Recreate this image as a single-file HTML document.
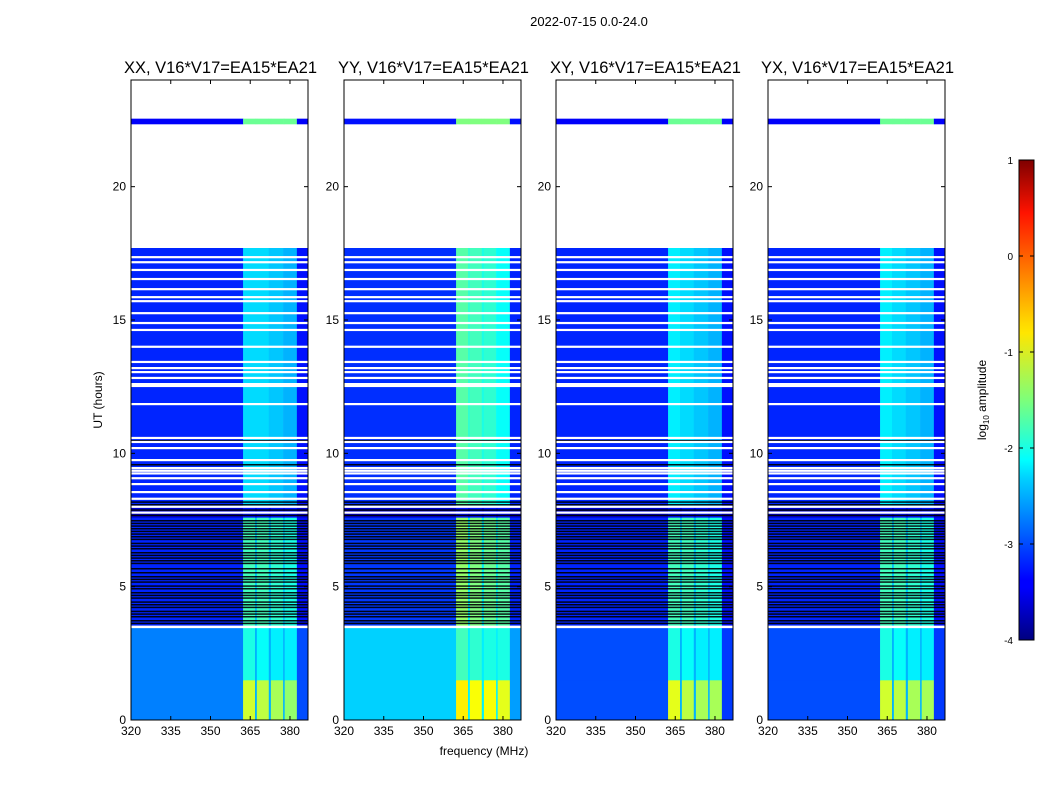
<!DOCTYPE html>
<html><head><meta charset="utf-8"><style>
body{margin:0;background:#fff;width:1050px;height:800px;overflow:hidden;font-family:"Liberation Sans","DejaVu Sans",sans-serif}
svg text{font-family:"Liberation Sans","DejaVu Sans",sans-serif}
</style></head><body>
<svg id="fig" width="1050" height="800" xmlns="http://www.w3.org/2000/svg">
<text x="589" y="26" font-size="13" text-anchor="middle">2022-07-15 0.0-24.0</text>
<text x="484" y="755" font-size="12" text-anchor="middle">frequency (MHz)</text>
<text transform="translate(102,400) rotate(-90)" font-size="12" text-anchor="middle">UT (hours)</text>
<defs><linearGradient id="jet" x1="0" y1="1" x2="0" y2="0">
<stop offset="0" stop-color="#00007f"/><stop offset="0.11" stop-color="#0000ff"/><stop offset="0.125" stop-color="#0000ff"/><stop offset="0.34" stop-color="#00d4ff"/><stop offset="0.375" stop-color="#00ffff"/><stop offset="0.5" stop-color="#7dff7a"/><stop offset="0.64" stop-color="#ffe600"/><stop offset="0.66" stop-color="#ffd900"/><stop offset="0.89" stop-color="#ff1300"/><stop offset="1" stop-color="#7f0000"/></linearGradient></defs>
<g id="cbar">
<rect x="1019" y="160" width="15" height="480" fill="url(#jet)" stroke="#000" stroke-width="1"/>
<text transform="translate(986,400) rotate(-90)" font-size="12" text-anchor="middle">log<tspan font-size="8" dy="3">10</tspan><tspan dy="-3"> amplitude</tspan></text>
</g>
</svg>
<script>
const panelTitles=["XX, V16*V17=EA15*EA21","YY, V16*V17=EA15*EA21","XY, V16*V17=EA15*EA21","YX, V16*V17=EA15*EA21"];
const panelLefts=[131,344,556,768];
const xTicks=[320,335,350,365,380];
const yTicks=[0,5,10,15,20];
const cbTicks=[1,0,-1,-2,-3,-4];
const timeEdges=[0,1.5,3.45,3.55,7.6,8.0,17.7,22.35,22.55,24];
const freqEdges=[320,362.3,366.8,367.5,372,372.8,377.4,378,382.6,386.8];
const valsXX=[[-2.75,-1.1,-2.5,-1.2,-2.5,-1.3,-2.5,-1.4,-3.0],[-2.75,-2.0,-2.5,-2.1,-2.5,-2.2,-2.5,-2.2,-3.0],null,[-3.2,-1.8,-2.4,-1.8,-2.4,-1.9,-2.4,-2.0,-3.3],[-3.6,-3.3,-3.5,-3.3,-3.5,-3.3,-3.5,-3.3,-3.6],[-3.2,-2.3,-2.3,-2.3,-2.4,-2.4,-2.5,-2.5,-3.3],null,[-3.4,-1.6,-1.6,-1.6,-1.6,-1.6,-1.6,-1.6,-3.4],null];
const valsYY=[[-2.35,-0.8,-2.2,-0.9,-2.2,-0.9,-2.2,-1.0,-2.6],[-2.35,-1.8,-2.2,-1.9,-2.2,-2.0,-2.2,-2.0,-2.6],null,[-3.1,-1.4,-2.2,-1.5,-2.2,-1.6,-2.2,-1.7,-3.2],[-3.6,-3.3,-3.5,-3.3,-3.5,-3.3,-3.5,-3.3,-3.6],[-3.15,-1.7,-1.9,-1.8,-2.0,-1.9,-2.1,-2.1,-3.2],null,[-3.3,-1.5,-1.5,-1.5,-1.5,-1.5,-1.5,-1.5,-3.3],null];
const valsXY=[[-3.0,-1.0,-2.5,-1.2,-2.5,-1.3,-2.5,-1.3,-3.1],[-3.0,-2.0,-2.5,-2.1,-2.5,-2.2,-2.5,-2.2,-3.1],null,[-3.2,-1.8,-2.4,-1.8,-2.4,-1.9,-2.4,-2.0,-3.3],[-3.6,-3.3,-3.5,-3.3,-3.5,-3.3,-3.5,-3.3,-3.6],[-3.2,-2.2,-2.3,-2.3,-2.4,-2.4,-2.5,-2.5,-3.3],null,[-3.4,-1.6,-1.6,-1.6,-1.6,-1.6,-1.6,-1.6,-3.4],null];
const valsYX=[[-3.0,-1.1,-2.5,-1.2,-2.5,-1.3,-2.5,-1.3,-3.1],[-3.0,-2.0,-2.5,-2.1,-2.5,-2.2,-2.5,-2.2,-3.1],null,[-3.2,-1.8,-2.4,-1.8,-2.4,-1.9,-2.4,-2.0,-3.3],[-3.6,-3.3,-3.5,-3.3,-3.5,-3.3,-3.5,-3.3,-3.6],[-3.2,-2.2,-2.3,-2.3,-2.4,-2.4,-2.5,-2.5,-3.3],null,[-3.4,-1.6,-1.6,-1.6,-1.6,-1.6,-1.6,-1.6,-3.4],null];
const whiteHours=[17.36,17.17,16.88,16.54,16.16,15.86,15.71,15.26,14.89,14.63,14.0,13.43,13.2,13.05,12.83,12.6,12.53,11.85,10.58,10.43,10.2,9.75,9.45,9.35,9.25,9.07,8.85,8.55,8.3,8.0,7.78,3.49];
const blackHours=[10.5,9.6,8.2,8.1,7.9,7.7,7.5,7.4,7.3,7.2,7.1,7.0,6.9,6.8,6.65,6.55,6.45,6.3,6.2,6.1,6.0,5.9,5.7,5.55,5.4,5.3,5.2,5.05,4.95,4.8,4.7,4.6,4.45,4.35,4.25,4.1,4.0,3.9,3.75,3.65];
const allVals=[valsXX,valsYY,valsXY,valsYX];

const NS="http://www.w3.org/2000/svg";
const svg=document.getElementById('fig');
const PW=177,PT=80,PH=640,FMIN=320,FMAX=386.8;
function mk(tag,attrs,parent){const e=document.createElementNS(NS,tag);for(const k in attrs)e.setAttribute(k,attrs[k]);(parent||svg).appendChild(e);return e;}
function jet(v){let t=Math.max(0,Math.min(1,(v+4)/5));
 const c=x=>Math.round(255*Math.max(0,Math.min(1,x)));
 const r=c(Math.min(4*t-1.5,-4*t+4.5)),g=c(Math.min(4*t-0.5,-4*t+3.5)),b=c(Math.min(4*t+0.5,-4*t+2.5));
 return `rgb(${r},${g},${b})`;}
const yOf=h=>PT+PH-h/24*PH;
const cbY=v=>160+(1-v)/5*480;

allVals.forEach((vals,p)=>{
 const L=panelLefts[p];
 const xOf=f=>L+(f-FMIN)/(FMAX-FMIN)*PW;
 const g=mk('g',{});
 
 
 for(let i=0;i<vals.length;i++){
  if(!vals[i])continue;
  const y1=yOf(timeEdges[i+1]),y0=yOf(timeEdges[i]);
  for(let j=0;j<vals[i].length;j++){
   const x0=xOf(freqEdges[j]),x1=xOf(freqEdges[j+1]);
   const r=mk('rect',{x:x0,y:y1,width:x1-x0+0.3,height:y0-y1+0.3,fill:jet(vals[i][j])},g);
   
   
  }
 }
 blackHours.forEach(h=>{
  const r=mk('rect',{x:L,y:yOf(h),width:PW,height:1.5,fill:'#000',opacity:0.9},g);
  
  
 });
 whiteHours.forEach(h=>{
  const r=mk('rect',{x:L,y:yOf(h)-1,width:PW,height:2.2,fill:'#fff'},g);
  
  
 });
 const fr=mk('rect',{x:L,y:PT,width:PW,height:PH,fill:'none',stroke:'#000','stroke-width':1},g);
 
 
 const t=mk('text',{x:L+PW/2+1,y:73,'font-size':16.5,'text-anchor':'middle'},g);
 t.textContent=panelTitles[p];
 
 
 xTicks.forEach(f=>{
  const x=xOf(f);
  mk('line',{x1:x,x2:x,y1:PT+PH,y2:PT+PH-4,stroke:'#000'},g);
  mk('line',{x1:x,x2:x,y1:PT,y2:PT+4,stroke:'#000'},g);
  const tx=mk('text',{x:x,y:PT+PH+15,'font-size':12,'text-anchor':'middle'},g);
  tx.textContent=f;
  
  
 });
 yTicks.forEach(h=>{
  const y=yOf(h);
  mk('line',{x1:L,x2:L+4,y1:y,y2:y,stroke:'#000'},g);
  mk('line',{x1:L+PW,x2:L+PW-4,y1:y,y2:y,stroke:'#000'},g);
  const ty=mk('text',{x:L-5,y:y+4,'font-size':12,'text-anchor':'end'},g);
  ty.textContent=h;
  
  
 });
});
const cb=document.getElementById('cbar');
cbTicks.forEach(v=>{
 const y=cbY(v);
 mk('line',{x1:1019,x2:1023,y1:y,y2:y,stroke:'#000'},cb);
 mk('line',{x1:1034,x2:1030,y1:y,y2:y,stroke:'#000'},cb);
 const t=mk('text',{x:1013,y:y+4,'font-size':10,'text-anchor':'end'},cb);
 t.textContent=v;
 
 
});
</script>
</body></html>
